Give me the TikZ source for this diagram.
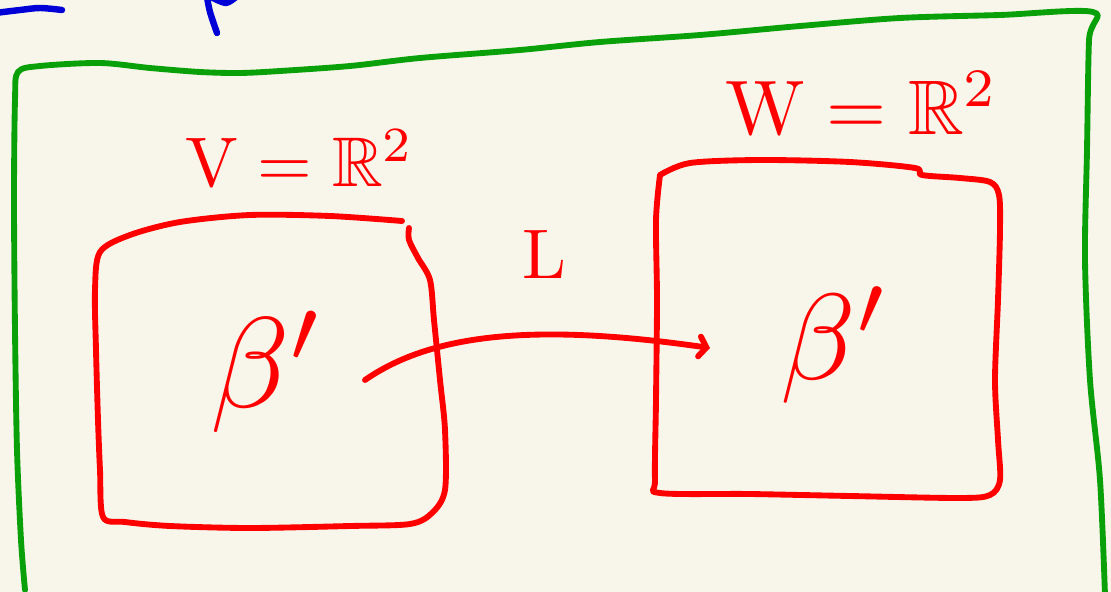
\documentclass[tikz,border=0pt]{standalone}
\usepackage{amssymb, amsmath}
\usepackage{tikz}
\usetikzlibrary{arrows.meta}

\definecolor{paper}{RGB}{248,246,234}
\definecolor{inkred}{RGB}{255,0,0}
\definecolor{inkgreen}{RGB}{10,160,10}
\definecolor{inkblue}{RGB}{0,0,215}

\begin{document}
\begin{tikzpicture}[x=0.03cm, y=-0.03cm,
			pen/.style={line width=5pt,line cap=round,line join=round},
			redpen/.style={pen,color=inkred}, greenpen/.style={pen,color=inkgreen}, bluepen/.style={pen,color=inkblue,line width=5.5pt},
			space/.style={text=inkred,scale=6,inner sep=0},
			basis/.style={text=inkred,scale=11,inner sep=0},
			>={Straight Barb[length=6pt,width=17pt,line cap=round]}]
			\fill[paper] (0,0) rectangle (1111,592);
			\useasboundingbox (0,0) rectangle (1111,592);
			% scribbles cut off at the top
			\draw[bluepen] plot[smooth] coordinates {(-5,13) (20,10) (40,8) (62,10)};
			\draw[bluepen] plot[smooth] coordinates {(207,-3) (210,12) (217,33)};
			\draw[bluepen] plot[smooth] coordinates {(213,-2) (226,3) (236,-3)};
			% outer frame
			\draw[greenpen] plot[smooth,tension=0.5] coordinates {(25,590) (21,540) (17,450) (15,330) (14,200) (15,100) (18,72) (40,66) (100,63) (150,68) (200,72) (240,73) (280,71) (350,66) (420,58) (520,50) (600,42) (700,35) (800,26) (900,18) (1000,15) (1093,12) (1089,40) (1087,150) (1085,260) (1090,380) (1100,480) (1105,595)};
			% the two spaces
			\draw[redpen] plot[smooth,tension=0.5] coordinates {(402,221) (330,216) (250,215) (180,222) (130,235) (100,252) (95,290) (96,350) (98,420) (100,470) (103,517) (125,522) (170,526) (250,528) (350,526) (410,524) (432,513) (445,490) (445,430) (440,380) (434,320) (430,280) (418,258) (409,240) (409,228)};
			\draw[redpen] plot[smooth,tension=0.5] coordinates {(660,175) (690,163) (760,160) (850,162) (915,168) (922,175) (960,178) (990,182) (999,195) (1000,230) (998,300) (995,380) (998,440) (1000,480) (990,495) (960,498) (850,496) (750,494) (660,493) (655,480) (656,400) (657,300) (656,220) (660,175)};
			\node[space] (V) at (300,158) {$\mathrm{V}=\mathbb{R}^2$};
			\node[space,scale=1.1] (W) at (862,103) {$\mathrm{W}=\mathbb{R}^2$};
			\node[space] (L) at (544,254) {$\mathrm{L}$};
			\node[basis] (b1) at (268,372) {$\beta'$};
			\node[basis,scale=0.95] (b2) at (836,345) {$\beta'$};
			% the map L
			\coordinate (tail) at (365,380);
			\coordinate (head) at (710,348);
			\draw[redpen,->] (tail) .. controls (430,335) and (530,322) .. (head);
		\end{tikzpicture}
\end{document}
